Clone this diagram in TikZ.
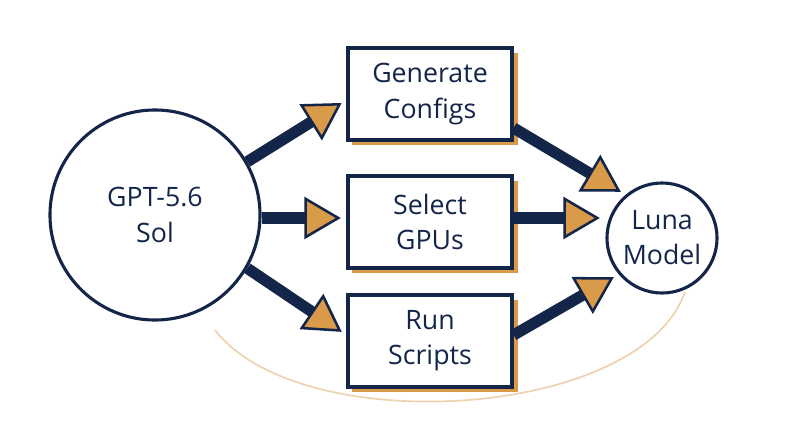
\documentclass[tikz,border=0pt]{standalone}
\usepackage{fontspec}
\setmainfont{Open Sans}
\usetikzlibrary{arrows.meta}
\definecolor{navy}{HTML}{14254A}
\definecolor{gold}{HTML}{D99A4A}
\begin{document}
\begin{tikzpicture}[x=0.025cm,y=-0.025cm,
  box/.style={draw=navy,line width=2.2pt,fill=white,minimum width=4.1cm,minimum height=2.3cm,align=center,font=\fontsize{19}{25}\selectfont,text=navy},
  circ/.style={circle,draw=navy,line width=2.2pt,fill=white,align=center,font=\fontsize{19}{25}\selectfont,text=navy},
  big/.style={navy,line width=8pt,-{Triangle[length=26pt,width=30pt,fill=gold,line width=1.8pt]},shorten >=4pt}]
\useasboundingbox (0,0) rectangle (800,447);
\fill[white] (0,0) rectangle (800,447);
\draw[gold!45,line width=1.2pt] (215,330) .. controls (300,440) and (640,420) .. (685,292);
\fill[gold] (352,53) rectangle (518,145);
\fill[gold] (352,181) rectangle (518,273);
\fill[gold] (352,300) rectangle (518,392);
\node[box] (t) at (430,94) {Generate\\Configs};
\node[box] (m) at (430,222) {Select\\GPUs};
\node[box] (b) at (430,341) {Run\\Scripts};
\node[circ,minimum size=5.25cm] (g) at (155,215) {GPT-5.6\\Sol};
\node[circ,minimum size=2.75cm] (l) at (662,238) {Luna\\Model};
\draw[big] (g.30) -- (t.west|-0,100) ;
\draw[big] (g.east|-0,218) -- (m.west|-0,218);
\draw[big] (g.-30) -- (b.west|-0,335);
\draw[big] (t.east|-0,128) -- (l.130);
\draw[big] (m.east|-0,218) -- (l.west|-0,218);
\draw[big] (b.east|-0,335) -- (l.-140);
\end{tikzpicture}
\end{document}
